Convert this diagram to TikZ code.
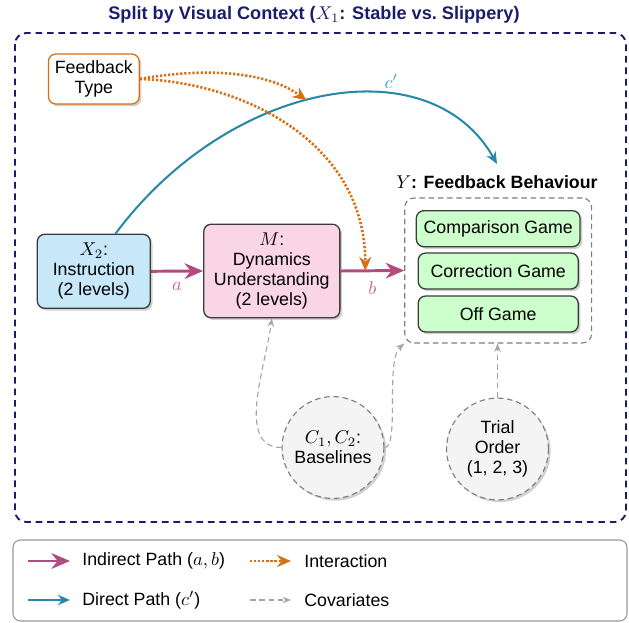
\documentclass[tikz,border=0pt]{standalone}
\usepackage{fontspec}
\setmainfont{Liberation Sans}
\usetikzlibrary{arrows.meta,shadows,calc}

\definecolor{navy}{RGB}{28,28,110}
\definecolor{pathpink}{RGB}{180,75,128}
\definecolor{labpink}{RGB}{198,100,155}
\definecolor{pathteal}{RGB}{38,137,168}
\definecolor{labteal}{RGB}{72,162,194}
\definecolor{interorange}{RGB}{214,112,20}
\definecolor{covgray}{RGB}{165,165,165}
\definecolor{dashgray}{RGB}{125,125,125}
\definecolor{edgegray}{RGB}{60,60,60}
\definecolor{xfill}{RGB}{198,232,249}
\definecolor{mfill}{RGB}{249,213,230}
\definecolor{gfill}{RGB}{204,255,204}
\definecolor{cfill}{RGB}{244,244,244}

\tikzset{
  softshadow/.style={drop shadow={shadow xshift=1.2pt, shadow yshift=-1.2pt, opacity=0.18, fill=black}},
  box/.style={draw=edgegray, line width=0.7pt, rounded corners=4pt, align=center,
              inner sep=2pt, softshadow},
  game/.style={box, fill=gfill, minimum height=19.4pt, minimum width=86.4pt},
  ycont/.style={draw=dashgray, line width=0.6pt, dash pattern=on 3pt off 2pt, rounded corners=5pt},
  covnode/.style={circle, draw=dashgray, line width=0.6pt, dash pattern=on 3pt off 2pt,
                  fill=cfill, minimum size=55pt, inner sep=1pt, align=center, softshadow},
  indirect/.style={pathpink, line width=1.6pt, -{Stealth[length=10pt,width=8.5pt]}},
  direct/.style={pathteal, line width=1.1pt, -{Stealth[length=6.5pt,width=5.5pt]}},
  inter/.style={interorange, line width=1.4pt, dash pattern=on 1.2pt off 1pt,
                -{Stealth[length=7.5pt,width=6.5pt]}},
  cov/.style={covgray, line width=0.6pt, dash pattern=on 3pt off 2pt,
              -{Stealth[length=4.5pt,width=3.5pt]}},
  frame/.style={navy, line width=1pt, dash pattern=on 3.6pt off 2.6pt, rounded corners=6pt},
  legendframe/.style={draw=gray!80, line width=0.6pt, rounded corners=4pt},
  legendtext/.style={anchor=west, inner sep=0pt}
}

\begin{document}
\begin{tikzpicture}[x=0.54pt, y=-0.54pt, font=\fontsize{9.6}{10.8}\selectfont]
\useasboundingbox (0,0) rectangle (629,623);

% title and outer frame
\node[navy, font=\fontsize{9.8}{11}\selectfont\bfseries] (title) at (314,15)
  {Split by Visual Context ($X_1$: Stable vs.\ Slippery)};
\draw[frame] (15,33) rectangle (626,522);

% moderator
\node[box, draw=interorange, fill=white, minimum width=49pt, minimum height=27pt] (fb)
  at (93.8,79) {Feedback\\Type};

% predictor and mediator
\node[box, fill=xfill, minimum width=61pt, minimum height=40pt] (X2)
  at (93.8,271.3) {$X_2$:\\Instruction\\(2 levels)};
\node[box, fill=mfill, minimum width=73.5pt, minimum height=50.5pt] (M)
  at (271.8,271) {$M$:\\Dynamics\\Understanding\\(2 levels)};

% outcome group
\node[ycont, minimum width=100.9pt, minimum height=78.3pt] (Y) at (498.2,270.5) {};
\node (ylab) at (497,182) {$Y$\textbf{: Feedback Behaviour}};
\node[game, minimum width=88.4pt] (g1) at (498.2,228.7) {Comparison Game};
\node[game] (g2) at (498.2,271) {Correction Game};
\node[game] (g3) at (498.2,314) {Off Game};

% covariates
\node[covnode] (base) at (333,447.5) {$C_1, C_2$:\\Baselines};
\node[covnode] (trial) at (497.5,449) {Trial\\Order\\(1, 2, 3)};

% indirect path
\draw[indirect] (X2.east) -- (M.west) node[midway, below=2pt, labpink] {$a$};
\draw[indirect] (M.east) -- (Y.west) node[midway, below=2pt, labpink] {$b$};
\coordinate (bmid) at ($(M.east)!0.39!(Y.west)$);

% direct path
\coordinate (cend) at (497,164);
\draw[direct] (X2.60) .. controls (230,80) and (430,45) .. (cend)
  node[pos=0.66, anchor=south, inner sep=3pt, labteal] {$c'$}
  coordinate[pos=0.46] (cmid);

% interaction
\draw[inter] (fb.east) .. controls (200,68) and (265,70) .. (cmid);
\draw[inter] (fb.east) .. controls (240,82) and (365,140) .. (bmid);

% covariate links
\draw[cov] (base.west) .. controls (235,447.5) and (266,365) .. (M.south);
\draw[cov] (base.east) .. controls (400,447.5) and (385,360) .. (Y.south west);
\draw[cov] (trial.north) -- (trial.north |- Y.south);

% legend
\draw[legendframe] (13,540) rectangle (627,621);
\coordinate (li1) at (28,561);  \coordinate (lo1) at (70,561);
\coordinate (li2) at (250,561); \coordinate (lo2) at (291,561);
\coordinate (li3) at (28,600);  \coordinate (lo3) at (70,600);
\coordinate (li4) at (250,600); \coordinate (lo4) at (291,600);
\draw[indirect] (li1) -- (lo1);
\node[legendtext] (t1) at (82,561) {Indirect Path ($a, b$)};
\draw[inter] (li2) -- (lo2);
\node[legendtext] (t2) at (304,561) {Interaction};
\draw[direct] (li3) -- (lo3);
\node[legendtext] (t3) at (82,600) {Direct Path ($c'$)};
\draw[cov] (li4) -- (lo4);
\node[legendtext] (t4) at (304,600) {Covariates};
\end{tikzpicture}
\end{document}
